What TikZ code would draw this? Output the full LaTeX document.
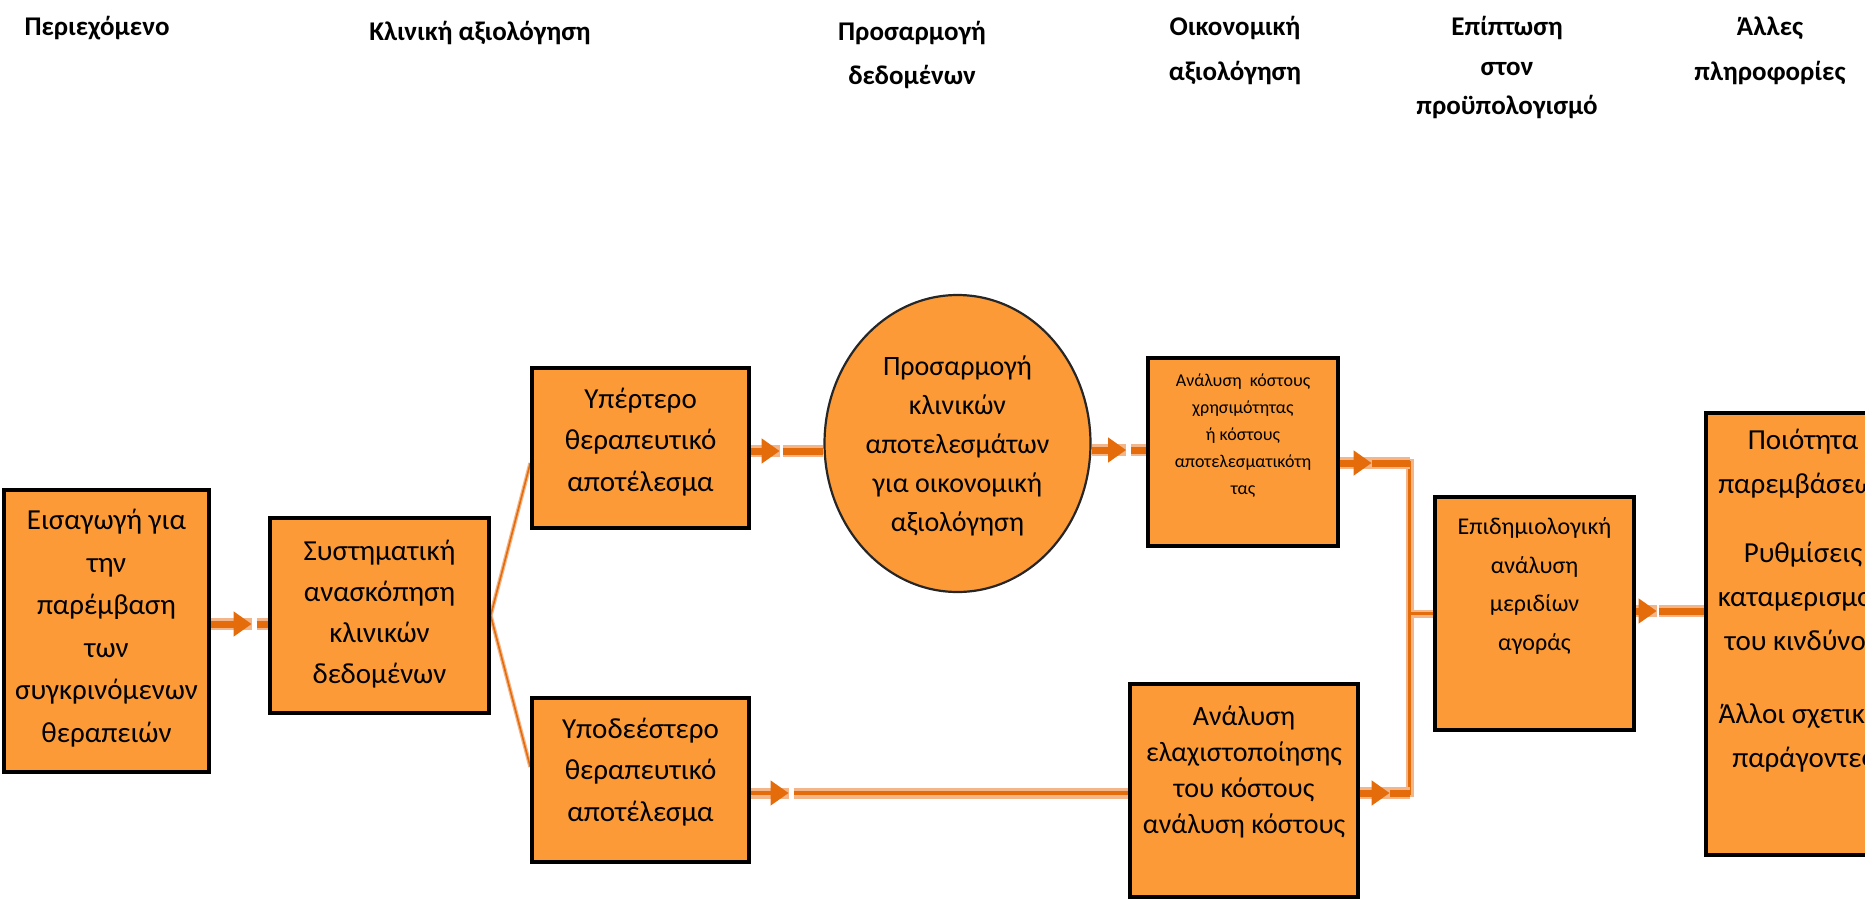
\documentclass[tikz,border=0pt]{standalone}
\usepackage{fontspec}
\setmainfont{Carlito}
\usetikzlibrary{arrows.meta,calc,shapes.geometric}

\definecolor{boxfill}{HTML}{FB9A36}
\definecolor{flowcore}{HTML}{E46C0A}
\definecolor{flowhalo}{HTML}{F3B68A}

\pgfdeclarelayer{links}
\pgfsetlayers{links,main}

\tikzset{
  stage/.style={draw=black, line width=3.3pt, fill=boxfill, inner sep=0pt},
  lbl/.style={align=center, inner sep=0pt, text=black},
  hdr/.style={align=center, inner sep=0pt, text=black, font=\fontsize{27}{45}\selectfont\bfseries},
  thickhalo/.style={draw=flowhalo, line width=12pt},
  thickcore/.style={draw=flowcore, line width=7pt},
  mediumhalo/.style={draw=flowhalo, line width=11pt},
  mediumcore/.style={draw=flowcore, line width=4pt},
  bushalo/.style={draw=flowhalo, line width=8pt, line cap=rect},
  buscore/.style={draw=flowcore, line width=3.5pt, line cap=rect},
  thinhalo/.style={draw=flowhalo, line width=4pt},
  thincore/.style={draw=flowcore, line width=1.6pt},
  headtip/.style={-{Triangle[length=18pt,width=24pt]}}
}

% #1 start, #2 end, #3 distance to the arrow tip, #4 gap after the tip, #5 line weight
\newcommand\flowlink[5]{%
  \draw[#5halo] (#1) -- ++(#3,0);
  \draw[#5halo] ($(#1)+(#3+#4,0)$) -- (#2);
  \draw[#5core,headtip] (#1) -- ++(#3,0);
  \draw[#5core] ($(#1)+(#3+#4,0)$) -- (#2);
}

\begin{document}
\begin{tikzpicture}[x=1pt,y=-1pt]
\useasboundingbox (0,0) rectangle (1865,902);

% column headings
\node[hdr] (h1) at (97,28) {Περιεχόμενο};
\node[hdr] (h2) at (480,33) {Κλινική αξιολόγηση};
\node[hdr, font=\fontsize{27}{44}\selectfont\bfseries] (h3) at (912,55) {Προσαρμογή\\δεδομένων};
\node[hdr] (h4) at (1235,50.5) {Οικονομική\\αξιολόγηση};
\node[hdr, font=\fontsize{27}{39.5}\selectfont\bfseries] (h5) at (1507,67.5) {Επίπτωση\\στον\\προϋπολογισμό};
\node[hdr] (h6) at (1770,50.5) {Άλλες\\πληροφορίες};

% stages
\node[stage, minimum width=205pt, minimum height=282pt] (b1) at (106.5,631) {};
\node[stage, minimum width=219pt, minimum height=195pt] (b2) at (379.5,615.5) {};
\node[stage, minimum width=217pt, minimum height=160pt] (b3) at (640.5,448) {};
\node[stage, minimum width=217pt, minimum height=164pt] (b4) at (640.5,780) {};
\node[ellipse, draw=black!85, line width=2.2pt, fill=boxfill, inner sep=0pt,
      minimum width=266pt, minimum height=297pt] (c) at (957.5,443.5) {};
\node[stage, minimum width=190pt, minimum height=188pt] (b5) at (1243,452) {};
\node[stage, minimum width=228pt, minimum height=213pt] (b6) at (1244,790.5) {};
\node[stage, minimum width=199pt, minimum height=233pt] (b7) at (1534.5,613.5) {};
\node[stage, minimum width=194pt, minimum height=442pt] (b8) at (1803,634) {};

% stage texts
\node[lbl, font=\fontsize{29}{42.5}\selectfont] (t1) at (106.5,628)
  {Εισαγωγή για\\την\\παρέμβαση\\των\\συγκρινόμενων\\θεραπειών};
\node[lbl, font=\fontsize{29}{41}\selectfont] (t2) at (379.5,614)
  {Συστηματική\\ανασκόπηση\\κλινικών\\δεδομένων};
\node[lbl, font=\fontsize{29}{41.5}\selectfont] (t3) at (640.5,442)
  {Υπέρτερο\\θεραπευτικό\\αποτέλεσμα};
\node[lbl, font=\fontsize{29}{41.5}\selectfont] (t4) at (640.5,772)
  {Υποδεέστερο\\θεραπευτικό\\αποτέλεσμα};
\node[lbl, font=\fontsize{28}{39}\selectfont] (tc) at (957.5,446)
  {Προσαρμογή\\κλινικών\\αποτελεσμάτων\\για οικονομική\\αξιολόγηση};
\node[lbl, font=\fontsize{18}{27}\selectfont] (t5) at (1243,436)
  {Ανάλυση\ \ κόστους\\χρησιμότητας\\ή κόστους\\αποτελεσματικότη\\τας};
\node[lbl, font=\fontsize{28}{36}\selectfont] (t6) at (1244,772)
  {Ανάλυση\\ελαχιστοποίησης\\του κόστους\\ανάλυση κόστους};
\node[lbl, font=\fontsize{24}{38.5}\selectfont] (t7) at (1534.5,586)
  {Επιδημιολογική\\ανάλυση\\μεριδίων\\αγοράς};
\node[lbl, font=\fontsize{29}{44}\selectfont] (t8) at (1803,600.5)
  {Ποιότητα\\παρεμβάσεων\\[25pt]Ρυθμίσεις\\καταμερισμού\\του κινδύνου\\[29pt]Άλλοι σχετικοί\\παράγοντες};

% connector end points taken from the stages
\coordinate (s1) at ($(b1.east)+(0,-7)$);
\coordinate (e1) at (s1 -| b2.west);
\coordinate (s3) at ($(b3.east)+(0,3)$);
\coordinate (e3) at (s3 -| c.west);
\coordinate (sc) at ($(c.east)+(0,6.5)$);
\coordinate (ec) at (sc -| b5.west);
\coordinate (bt) at ($(b5.east)+(70,11)$);
\coordinate (s5) at (bt -| b5.east);
\coordinate (s6) at ($(b6.east)+(0,2.5)$);
\coordinate (bb) at (s6 -| bt);
\coordinate (s4) at ($(b4.east)+(0,13)$);
\coordinate (e4) at (s4 -| b6.west);
\coordinate (bm) at (b7.west -| bt);
\coordinate (s7) at ($(b7.east)+(0,-2.5)$);
\coordinate (e7) at (s7 -| b8.west);

\begin{pgfonlayer}{links}
  % fan-out from the review to both outcomes
  \draw[thinhalo] (b2.east) -- ($(b3.west)+(0,15)$);
  \draw[thinhalo] (b2.east) -- ($(b4.west)+(0,-13)$);
  \draw[thincore] (b2.east) -- ($(b3.west)+(0,15)$);
  \draw[thincore] (b2.east) -- ($(b4.west)+(0,-13)$);

  % collecting bus into the market share analysis
  \draw[bushalo] (bt) -- (bb);
  \draw[bushalo] (bm) -- (b7.west);
  \draw[buscore] (bt) -- (bb);
  \draw[buscore] (bm) -- (b7.west);

  \flowlink{s1}{e1}{41}{5}{thick}
  \flowlink{s3}{e3}{29}{3}{thick}
  \flowlink{sc}{ec}{34.5}{5}{thick}
  \flowlink{s5}{bt}{32}{0}{thick}
  \flowlink{s6}{bb}{30}{0}{thick}
  \flowlink{s4}{e4}{38}{5}{medium}
  \flowlink{s7}{e7}{21}{2}{thick}
\end{pgfonlayer}
\end{tikzpicture}
\end{document}
